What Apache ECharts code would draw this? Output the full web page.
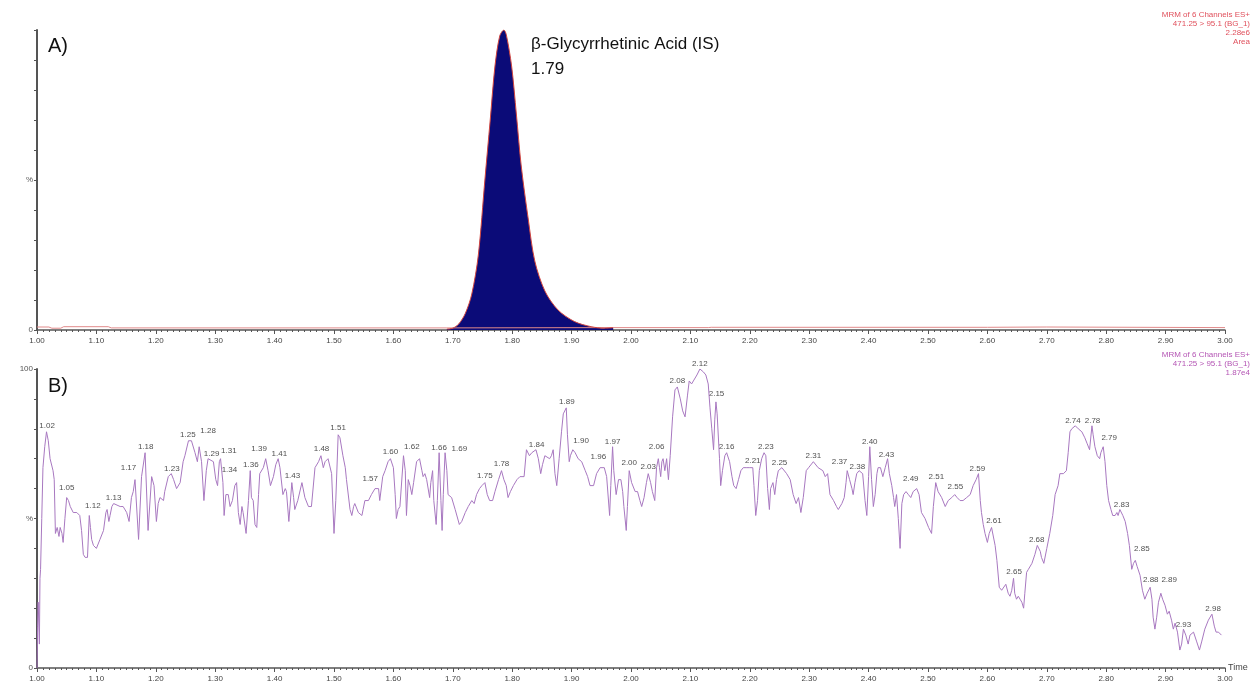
<!DOCTYPE html>
<html>
<head>
<meta charset="utf-8">
<title>MRM chromatogram</title>
<script src="https://cdn.jsdelivr.net/npm/echarts@6/dist/echarts.min.js"></script>
<style>
  html, body { margin: 0; padding: 0; background: #fff; }
  #chart { width: 1251px; height: 688px; }
</style>
</head>
<body>
<div id="chart"></div>
<script>
// ---- panel A: internal standard peak, % of 2.28e6 ----
const peakATime = [1.690, 1.700, 1.710, 1.721, 1.732, 1.743, 1.754, 1.763, 1.771, 1.779, 1.786, 1.790,
  1.799, 1.807, 1.815, 1.827, 1.838, 1.855, 1.877, 1.905, 1.933, 1.955, 1.970]
const peakAIntensity = [0.3, 0.6, 2, 5.5, 12, 25, 50, 70, 88, 98, 100, 98.5,
  88, 72, 55, 37, 23, 13, 6.7, 2.8, 1.1, 0.6, 0.8]

// baseline noise of panel A (outside the peak)
const baseATime = [1.000, 1.020, 1.025, 1.040, 1.045, 1.120, 1.125, 1.690, 1.970, 2.130, 2.135, 2.600, 2.700, 3.000]
const baseAIntensity = [1.0, 1.0, 0.6, 0.6, 1.1, 1.1, 0.7, 0.7, 0.8, 0.8, 0.9, 0.9, 1.0, 0.8]

// ---- panel B: noise trace, % of 1.87e4 ----
const traceB1 = [[1.000,0],[1.001,14],[1.002,22],[1.004,8],[1.005,30],[1.006,33],[1.008,50],[1.010,67],[1.013,74],[1.016,79],[1.019,76],[1.022,70],[1.025,70],[1.027,66],[1.029,63],[1.031,45],[1.034,47],[1.037,44],[1.039,47],[1.042,45],[1.044,42],[1.047,50],[1.050,57],[1.053,56],[1.056,54],[1.061,52],[1.064,52],[1.067,52],[1.072,51],[1.075,46],[1.078,38],[1.081,37],[1.085,37],[1.088,51],[1.090,47],[1.092,43],[1.095,41],[1.100,40],[1.106,43],[1.112,46],[1.116,52],[1.118,53],[1.121,49],[1.123,51],[1.126,54],[1.129,55],[1.131,55],[1.140,54],[1.145,54],[1.151,52],[1.155,49],[1.159,57],[1.162,59],[1.165,63],[1.171,43],[1.176,64],[1.182,72],[1.187,46],[1.193,64],[1.197,61],[1.201,49],[1.204,55],[1.207,57],[1.213,56],[1.215,59],[1.221,64],[1.226,65],[1.230,63],[1.235,60],[1.241,62],[1.246,69],[1.249,71],[1.255,76],[1.260,76],[1.266,72],[1.270,69],[1.273,74],[1.277,69],[1.281,56],[1.285,66],[1.288,70],[1.291,70],[1.297,69],[1.301,63],[1.304,61],[1.307,69],[1.309,70],[1.313,62],[1.315,51],[1.318,58],[1.322,58],[1.325,54],[1.329,56],[1.333,61],[1.336,62],[1.339,52],[1.342,48],[1.345,54],[1.347,52],[1.352,45],[1.356,56],[1.359,66],[1.361,57],[1.364,56],[1.367,48],[1.370,47],[1.373,58],[1.375,65],[1.381,67],[1.385,70],[1.389,66],[1.393,61],[1.398,64],[1.402,68],[1.406,70],[1.409,67],[1.414,58],[1.418,60],[1.420,59],[1.424,49],[1.429,62],[1.432,57],[1.434,53],[1.439,56],[1.446,62],[1.451,57],[1.457,54],[1.462,54],[1.468,67],[1.474,69],[1.478,71],[1.482,67],[1.485,69],[1.490,70],[1.493,70],[1.496,65]]
const traceB2 = [[1.500,45],[1.503,56],[1.507,78],[1.510,77],[1.515,71],[1.519,67],[1.521,63],[1.527,53],[1.530,51],[1.533,54],[1.535,55],[1.541,52],[1.547,51],[1.549,53],[1.552,56],[1.558,56],[1.563,58],[1.569,60],[1.575,60],[1.577,56],[1.582,64],[1.586,66],[1.591,69],[1.595,70],[1.600,67],[1.603,58],[1.605,50],[1.608,53],[1.611,54],[1.617,71],[1.620,66],[1.622,51],[1.625,63],[1.628,61],[1.631,58],[1.634,62],[1.639,69],[1.644,70],[1.648,66],[1.650,64],[1.653,65],[1.656,63],[1.661,57],[1.663,62],[1.666,66],[1.668,56],[1.672,48],[1.674,56],[1.677,72],[1.680,56],[1.682,46],[1.684,58],[1.687,72],[1.690,66],[1.692,58],[1.698,57],[1.704,53],[1.711,48],[1.715,49],[1.721,52],[1.726,54],[1.732,56],[1.736,55],[1.740,58],[1.745,60],[1.749,61],[1.754,62],[1.758,58],[1.762,56],[1.767,56],[1.771,59],[1.777,63],[1.782,66],[1.786,63],[1.790,61],[1.793,57],[1.797,59],[1.802,61],[1.808,63],[1.813,64],[1.820,64],[1.824,73],[1.829,71],[1.833,72],[1.840,73],[1.844,70],[1.848,65],[1.851,68],[1.855,71],[1.858,71],[1.863,70],[1.866,71],[1.869,73],[1.872,65],[1.875,61],[1.879,70],[1.883,79],[1.886,85],[1.891,87],[1.893,78],[1.896,69],[1.898,71],[1.902,73],[1.906,72],[1.911,70],[1.917,69],[1.923,66],[1.927,64],[1.931,61],[1.937,61],[1.942,65],[1.948,67],[1.955,67],[1.959,64],[1.964,51],[1.966,61],[1.969,74],[1.971,66],[1.975,58],[1.979,63],[1.983,63],[1.986,59],[1.988,54],[1.992,46],[1.994,54],[1.997,66]]
const traceB3 = [[2.001,62],[2.007,59],[2.011,59],[2.015,56],[2.018,54],[2.022,57],[2.026,62],[2.029,65],[2.033,62],[2.036,59],[2.040,56],[2.043,67],[2.046,70],[2.048,67],[2.050,64],[2.052,69],[2.054,70],[2.057,66],[2.060,70],[2.063,63],[2.066,71],[2.070,84],[2.074,93],[2.078,94],[2.083,90],[2.087,86],[2.091,84],[2.095,91],[2.098,96],[2.102,95],[2.105,96],[2.111,98],[2.116,100],[2.122,99],[2.126,98],[2.130,95],[2.133,87],[2.136,80],[2.139,73],[2.141,83],[2.143,89],[2.145,85],[2.149,70],[2.151,61],[2.154,66],[2.158,71],[2.161,72],[2.166,69],[2.170,64],[2.173,61],[2.177,60],[2.181,63],[2.185,66],[2.189,67],[2.195,67],[2.200,67],[2.205,67],[2.207,61],[2.210,51],[2.213,56],[2.216,66],[2.220,70],[2.224,72],[2.227,71],[2.230,60],[2.233,53],[2.235,60],[2.239,62],[2.242,58],[2.245,63],[2.248,66],[2.254,67],[2.262,65],[2.268,63],[2.273,58],[2.278,55],[2.282,57],[2.286,52],[2.290,57],[2.295,66],[2.299,67],[2.307,69],[2.315,67],[2.323,66],[2.327,64],[2.331,65],[2.335,58],[2.341,56],[2.346,54],[2.349,53],[2.355,55],[2.359,57],[2.362,62],[2.364,66],[2.368,63],[2.372,60],[2.374,58],[2.377,62],[2.380,65],[2.384,66],[2.390,65],[2.394,56],[2.397,51],[2.400,64],[2.402,74],[2.405,63],[2.408,54],[2.411,58],[2.414,65],[2.416,67],[2.420,67],[2.424,64],[2.428,67],[2.432,70],[2.435,65],[2.439,61],[2.442,57],[2.444,54],[2.447,58],[2.450,50],[2.453,40],[2.456,55],[2.459,58],[2.463,59],[2.467,58],[2.471,57],[2.475,59],[2.481,60],[2.485,58],[2.489,52],[2.495,50]]
const traceB4 = [[2.501,47],[2.506,45],[2.509,54],[2.513,62],[2.517,59],[2.523,57],[2.529,54],[2.534,56],[2.540,57],[2.545,58],[2.549,57],[2.554,56],[2.559,56],[2.565,57],[2.571,58],[2.576,61],[2.581,63],[2.585,65],[2.588,56],[2.590,52],[2.593,48],[2.596,45],[2.600,42],[2.603,45],[2.607,47],[2.610,47],[2.613,41],[2.616,36],[2.620,27],[2.624,26],[2.627,26],[2.631,28],[2.635,25],[2.638,24],[2.641,26],[2.644,30],[2.646,25],[2.649,23],[2.652,24],[2.655,23],[2.658,22],[2.661,20],[2.663,25],[2.666,32],[2.669,33],[2.672,33],[2.675,35],[2.680,38],[2.684,41],[2.689,39],[2.691,37],[2.695,35],[2.700,40],[2.705,45],[2.710,51],[2.714,58],[2.717,58],[2.719,61],[2.722,65],[2.728,65],[2.733,66],[2.736,72],[2.739,79],[2.742,80],[2.748,81],[2.753,80],[2.759,79],[2.764,77],[2.768,75],[2.772,73],[2.776,81],[2.778,78],[2.781,74],[2.785,71],[2.789,70],[2.791,72],[2.793,73],[2.795,74],[2.798,69],[2.801,61],[2.804,56],[2.808,53],[2.811,51],[2.815,51],[2.818,52],[2.820,51],[2.823,53],[2.828,51],[2.832,49],[2.836,45],[2.839,41],[2.843,33],[2.846,35],[2.849,36],[2.852,34],[2.857,31],[2.861,26],[2.865,23],[2.869,25],[2.874,27],[2.877,23],[2.879,17],[2.882,13],[2.885,17],[2.888,22],[2.892,25],[2.895,23],[2.899,21],[2.903,18],[2.906,19],[2.910,16],[2.913,13],[2.916,15],[2.920,12],[2.924,6],[2.927,8],[2.930,13],[2.934,11],[2.938,8],[2.941,11],[2.947,12],[2.952,9],[2.957,6],[2.961,9],[2.966,13],[2.972,16],[2.978,18],[2.982,14],[2.985,12],[2.989,12],[2.994,11]]

// retention time labels printed above the peaks of panel B
const peakLabelText = ['1.02','1.05','1.12','1.13','1.17','1.18','1.23','1.25','1.28','1.29',
  '1.31','1.34','1.36','1.39','1.41','1.43','1.48','1.51','1.57','1.60',
  '1.62','1.66','1.69','1.75','1.78','1.84','1.89','1.90','1.96','1.97',
  '2.00','2.03','2.06','2.08','2.12','2.15','2.16','2.21','2.23','2.25',
  '2.31','2.37','2.38','2.40','2.43','2.49','2.51','2.55','2.59','2.61',
  '2.65','2.68','2.74','2.78','2.79','2.83','2.85','2.88','2.89','2.93','2.98']
const peakLabelTime = [1.017,1.050,1.094,1.129,1.154,1.183,1.227,1.254,1.288,1.294,
  1.323,1.324,1.360,1.374,1.408,1.430,1.479,1.507,1.561,1.595,
  1.631,1.677,1.711,1.754,1.782,1.841,1.892,1.916,1.945,1.969,
  1.997,2.029,2.043,2.078,2.116,2.144,2.161,2.205,2.227,2.250,
  2.307,2.351,2.381,2.402,2.430,2.471,2.514,2.546,2.583,2.611,
  2.645,2.683,2.744,2.777,2.805,2.826,2.860,2.875,2.906,2.930,2.980]
const peakLabelHeight = [81.0,60.2,54.1,56.9,66.9,74.1,66.7,78.0,79.4,71.6,
  72.8,66.3,68.0,73.2,71.6,64.4,73.2,80.5,63.3,72.2,
  73.9,73.6,73.2,64.3,68.3,74.5,88.9,76.1,70.6,75.8,
  68.6,67.4,73.9,96.2,101.8,91.8,73.9,69.3,73.9,68.6,
  71.1,68.8,67.4,75.8,71.3,63.3,63.8,60.5,66.7,49.3,
  32.3,42.9,82.7,82.7,76.9,54.6,39.8,29.5,29.5,14.5,19.7]

// y tick labels (only these values get text)
const yTickLabels = { 0: '0', 50: '%' }
const yTickLabelsB = { 0: '0', 50: '%', 100: '100' }

const headerA = ['MRM of 6 Channels ES+', '471.25 > 95.1 (BG_1)', '2.28e6', 'Area']
const headerB = ['MRM of 6 Channels ES+', '471.25 > 95.1 (BG_1)', '1.87e4']

const FONT = '"Liberation Sans", Arial, sans-serif'
const AXIS_COLOR = '#555'
const COLORS = {
  peakFill: '#0b0b78',
  peakLine: '#d2463f',
  baseline: '#e08a8a',
  trace: '#a878c0',
  headerA: '#e0505c',
  headerB: '#b455b4',
}

const zip = (xs, ys) => xs.map((x, i) => [x, ys[i]])

const makeXAxis = (gridIndex, name) => ({
  gridIndex,
  type: 'value',
  min: 1,
  max: 3,
  interval: 0.1,
  name,
  nameLocation: 'end',
  nameGap: 3,
  nameTextStyle: { color: '#444', fontSize: 9, fontFamily: FONT },
  axisLine: { lineStyle: { color: AXIS_COLOR, width: 1.5 } },
  axisTick: { length: 4, lineStyle: { color: AXIS_COLOR } },
  minorTick: { show: true, splitNumber: 10, length: 2, lineStyle: { color: AXIS_COLOR } },
  axisLabel: {
    color: '#444',
    fontSize: 8,
    fontFamily: FONT,
    margin: 7,
    formatter: (v) => v.toFixed(2),
  },
  splitLine: { show: false },
})

const makeYAxis = (gridIndex, labels) => ({
  gridIndex,
  type: 'value',
  min: 0,
  max: 100,
  interval: 10,
  axisLine: { show: true, lineStyle: { color: AXIS_COLOR, width: 2 } },
  axisTick: { show: true, length: 3, lineStyle: { color: AXIS_COLOR } },
  axisLabel: {
    color: '#555',
    fontSize: 8,
    fontFamily: FONT,
    margin: 4,
    showMinLabel: true,
    showMaxLabel: true,
    formatter: (v) => (labels[v] !== undefined ? labels[v] : ''),
  },
  splitLine: { show: false },
})

const headerText = (lines, top, color) => lines.map((line, i) => ({
  type: 'text',
  x: 1250,
  y: top + i * 9,
  style: {
    text: line,
    fill: color,
    font: `8px ${FONT}`,
    align: 'right',
    textAlign: 'right',
    verticalAlign: 'middle',
    textVerticalAlign: 'middle',
  },
}))

const bigText = (text, x, y, size) => ({
  type: 'text',
  x,
  y,
  style: { text, fill: '#111', font: `${size}px ${FONT}`, verticalAlign: 'top', textVerticalAlign: 'top' },
})

const chart = echarts.init(document.getElementById('chart'), null, { renderer: 'canvas' })

const option = {
  animation: false,
  backgroundColor: '#fff',
  grid: [
    { left: 37, right: 26, top: 30, height: 300 },
    { left: 37, right: 26, top: 369, height: 299 },
  ],
  xAxis: [makeXAxis(0, ''), makeXAxis(1, 'Time')],
  yAxis: [makeYAxis(0, yTickLabels), makeYAxis(1, yTickLabelsB)],
  graphic: [
    bigText('A)', 48, 36, 20),
    bigText('B)', 48, 376, 20),
    bigText('β-Glycyrrhetinic Acid (IS)', 531, 36, 17),
    bigText('1.79', 531, 61, 17),
    ...headerText(headerA, 15, COLORS.headerA),
    ...headerText(headerB, 355, COLORS.headerB),
  ],
  series: [
    {
      name: 'baselineA',
      type: 'line',
      xAxisIndex: 0,
      yAxisIndex: 0,
      data: zip(baseATime, baseAIntensity),
      showSymbol: false,
      lineStyle: { color: COLORS.baseline, width: 1 },
      silent: true,
    },
    {
      name: 'peakA',
      type: 'line',
      xAxisIndex: 0,
      yAxisIndex: 0,
      data: zip(peakATime, peakAIntensity),
      smooth: 0.3,
      showSymbol: false,
      lineStyle: { color: COLORS.peakLine, width: 1 },
      areaStyle: { color: COLORS.peakFill, opacity: 1 },
      silent: true,
    },
    {
      name: 'traceB',
      type: 'line',
      xAxisIndex: 1,
      yAxisIndex: 1,
      data: traceB1.concat(traceB2, traceB3, traceB4),
      showSymbol: false,
      lineStyle: { color: COLORS.trace, width: 1 },
      silent: true,
    },
    {
      name: 'labelsB',
      type: 'scatter',
      xAxisIndex: 1,
      yAxisIndex: 1,
      clip: false,
      symbolSize: 0,
      silent: true,
      data: peakLabelText.map((txt, i) => ({ name: txt, value: [peakLabelTime[i], peakLabelHeight[i]] })),
      label: {
        show: true,
        position: 'inside',
        formatter: '{b}',
        color: '#222',
        fontSize: 8,
        fontFamily: FONT,
      },
    },
  ],
}

chart.setOption(option)
</script>
</body>
</html>
